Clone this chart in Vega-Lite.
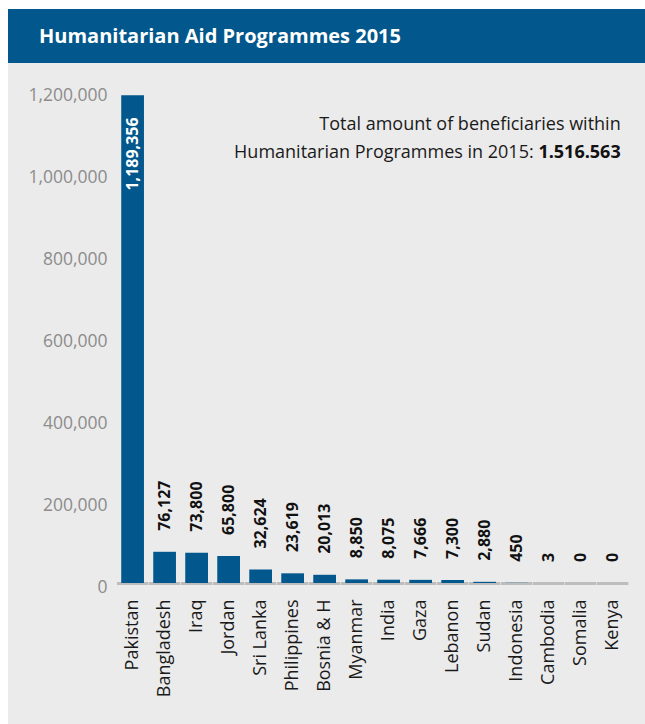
{
  "$schema": "https://vega.github.io/schema/vega-lite/v6.json",
  "background": "white",
  "padding": {"left": 8, "top": 9, "right": 0, "bottom": 0},
  "config": {
    "view": {"stroke": null},
    "concat": {"spacing": 0},
    "font": "Open Sans"
  },
  "datasets": {
    "aid": [
      {"country": "Pakistan", "value": 1189356},
      {"country": "Bangladesh", "value": 76127},
      {"country": "Iraq", "value": 73800},
      {"country": "Jordan", "value": 65800},
      {"country": "Sri Lanka", "value": 32624},
      {"country": "Philippines", "value": 23619},
      {"country": "Bosnia & H", "value": 20013},
      {"country": "Myanmar", "value": 8850},
      {"country": "India", "value": 8075},
      {"country": "Gaza", "value": 7666},
      {"country": "Lebanon", "value": 7300},
      {"country": "Sudan", "value": 2880},
      {"country": "Indonesia", "value": 450},
      {"country": "Cambodia", "value": 3},
      {"country": "Somalia", "value": 0},
      {"country": "Kenya", "value": 0}
    ]
  },
  "vconcat": [
    {
      "width": 637,
      "height": 54,
      "view": {"fill": "#02578c", "stroke": null},
      "data": {"values": [{"t": "Humanitarian Aid Programmes 2015"}]},
      "mark": {
        "type": "text",
        "align": "left",
        "baseline": "middle",
        "dx": -287.5,
        "dy": 1,
        "color": "#ffffff",
        "font": "Open Sans",
        "fontSize": 20,
        "fontWeight": "bold"
      },
      "encoding": {
        "text": {"field": "t", "type": "nominal"}
      }
    },
    {
      "width": 637,
      "height": 661,
      "view": {"fill": "#ebebeb", "stroke": null},
      "data": {"name": "aid"},
      "layer": [
        {
          "mark": {"type": "bar", "color": "#bdbdbd", "width": {"band": 1.38}},
          "encoding": {
            "x": {
              "field": "country",
              "type": "nominal",
              "scale": {
                "type": "band",
                "domain": ["Pakistan", "Bangladesh", "Iraq", "Jordan", "Sri Lanka", "Philippines", "Bosnia & H", "Myanmar", "India", "Gaza", "Lebanon", "Sudan", "Indonesia", "Cambodia", "Somalia", "Kenya"],
                "range": [108.6, 620.7],
                "paddingInner": 0.29,
                "paddingOuter": 0.145
              },
              "axis": {
                "title": null,
                "orient": "bottom",
                "offset": -141,
                "labelAngle": -90,
                "labelAlign": "right",
                "labelBaseline": "middle",
                "labelPadding": 16,
                "ticks": false,
                "tickSize": 0,
                "domain": false,
                "grid": false,
                "labelFont": "Open Sans",
                "labelFontSize": 18,
                "labelColor": "#1a1a1a",
                "labelOverlap": false,
                "labelBound": false
              }
            },
            "y": {
              "datum": 2400,
              "type": "quantitative",
              "scale": {"domain": [-343902, 1268293], "nice": false, "zero": false},
              "axis": {
                "title": null,
                "values": [0, 200000, 400000, 600000, 800000, 1000000, 1200000],
                "format": ",d",
                "offset": -99,
                "ticks": false,
                "tickSize": 0,
                "domain": false,
                "grid": false,
                "labelPadding": 0,
                "labelOffset": 4,
                "labelBaseline": "middle",
                "labelFont": "Open Sans",
                "labelFontSize": 17.5,
                "labelColor": "#8c8c8c"
              }
            },
            "y2": {"datum": -4900}
          }
        },
        {
          "mark": {"type": "bar", "color": "#02578c"},
          "encoding": {
            "x": {"field": "country", "type": "nominal"},
            "y": {"field": "value", "type": "quantitative"},
            "y2": {"datum": 0}
          }
        },
        {
          "transform": [{"filter": "datum.country !== 'Pakistan'"}],
          "mark": {
            "type": "text",
            "angle": -90,
            "align": "left",
            "baseline": "middle",
            "dx": 21,
            "font": "Open Sans",
            "fontSize": 16,
            "fontWeight": "bold",
            "color": "#111111"
          },
          "encoding": {
            "x": {"field": "country", "type": "nominal"},
            "y": {"field": "value", "type": "quantitative"},
            "text": {"field": "value", "type": "quantitative", "format": ",d"}
          }
        },
        {
          "transform": [{"filter": "datum.country === 'Pakistan'"}],
          "mark": {
            "type": "text",
            "angle": -90,
            "align": "right",
            "baseline": "middle",
            "dx": -22,
            "font": "Open Sans",
            "fontSize": 16,
            "fontWeight": "bold",
            "color": "#ffffff"
          },
          "encoding": {
            "x": {"field": "country", "type": "nominal"},
            "y": {"field": "value", "type": "quantitative"},
            "text": {"field": "value", "type": "quantitative", "format": ",d"}
          }
        },
        {
          "data": {"values": [{"note": "Total amount of beneficiaries within"}]},
          "mark": {
            "type": "text",
            "align": "right",
            "baseline": "middle",
            "dx": 8,
            "font": "Open Sans",
            "fontSize": 18,
            "color": "#1a1a1a"
          },
          "encoding": {
            "x": {"datum": "Kenya", "type": "nominal"},
            "y": {"datum": 1117073, "type": "quantitative"},
            "text": {"field": "note", "type": "nominal"}
          }
        },
        {
          "data": {"values": [{"note": "Humanitarian Programmes in 2015:"}]},
          "mark": {
            "type": "text",
            "align": "right",
            "baseline": "middle",
            "dx": -79,
            "font": "Open Sans",
            "fontSize": 18,
            "color": "#1a1a1a"
          },
          "encoding": {
            "x": {"datum": "Kenya", "type": "nominal"},
            "y": {"datum": 1048049, "type": "quantitative"},
            "text": {"field": "note", "type": "nominal"}
          }
        },
        {
          "data": {"values": [{"note": "1.516.563"}]},
          "mark": {
            "type": "text",
            "align": "right",
            "baseline": "middle",
            "dx": 8,
            "font": "Open Sans",
            "fontSize": 18,
            "fontWeight": "bold",
            "color": "#111111"
          },
          "encoding": {
            "x": {"datum": "Kenya", "type": "nominal"},
            "y": {"datum": 1048049, "type": "quantitative"},
            "text": {"field": "note", "type": "nominal"}
          }
        }
      ]
    }
  ]
}
